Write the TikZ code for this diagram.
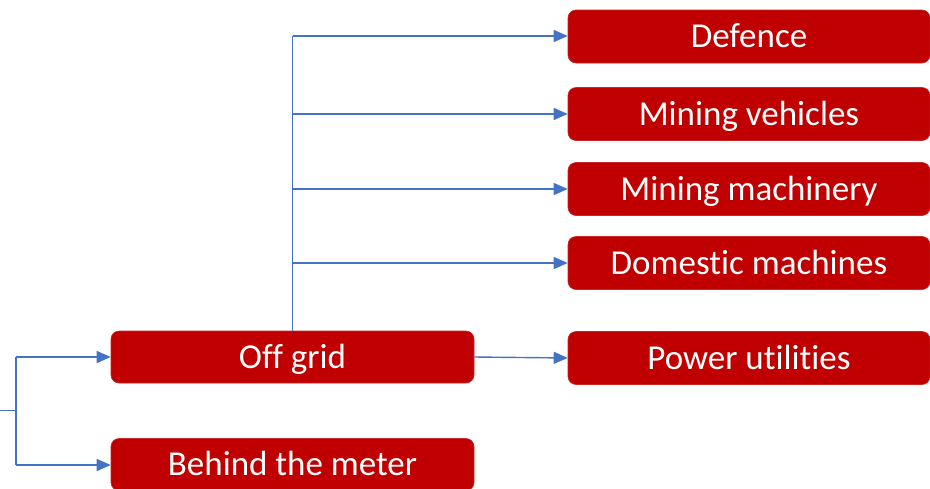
\documentclass[tikz,border=0pt]{standalone}
\usepackage{fontspec}
\setmainfont[RawFeature={-liga;-clig;-dlig}]{Carlito}
\usetikzlibrary{arrows.meta}
\definecolor{boxred}{HTML}{C00000}
\definecolor{linkblue}{HTML}{4472C4}
\begin{document}
\begin{tikzpicture}[x=1pt,y=-1pt,
  box/.style={fill=boxred, draw=boxred!85!white, line width=0.6pt, rounded corners=8pt, text=white,
    minimum width=362pt, minimum height=53pt, inner sep=0pt, text height=22.5pt, text depth=0pt,
    font=\fontsize{35}{35}\selectfont},
  lbox/.style={box, minimum width=363pt, minimum height=52pt},
  link/.style={draw=linkblue, line width=1.4pt, -{Triangle[length=14pt,width=12pt]}},
  plain/.style={draw=linkblue, line width=1.4pt}]
\useasboundingbox (0,0) rectangle (930,488);
\node[box] (def) at (749,36.5) {Defence};
\node[box] (veh) at (749,114) {Mining vehicles};
\node[box] (mach) at (749,189) {Mining machinery};
\node[box] (dom) at (749,263) {Domestic machines};
\node[box] (pow) at (749,358) {Power utilities};
\node[lbox] (off) at (292.5,357) {Off grid};
\node[lbox] (btm) at (292.5,464.5) {Behind the meter};
\coordinate (top) at (292.7,36);
\coordinate (j1) at (292.7,114);
\coordinate (j2) at (292.7,189);
\coordinate (j3) at (292.7,263);
\coordinate (in) at (0,410.5);
\coordinate (lj) at (16,410.5);
\coordinate (lt) at (16,357);
\coordinate (lb) at (16,465);
\draw[plain] (off.north -| top) -- (top);
\draw[link] (top) -- (def.west |- top);
\draw[link] (j1) -- (veh.west |- j1);
\draw[link] (j2) -- (mach.west |- j2);
\draw[link] (j3) -- (dom.west |- j3);
\draw[link] (off.east) -- (pow.west);
\draw[plain] (in) -- (lj);
\draw[plain] (lt) -- (lb);
\draw[link] (lt) -- (off.west);
\draw[link] (lb) -- (btm.west |- lb);
\end{tikzpicture}
\end{document}
